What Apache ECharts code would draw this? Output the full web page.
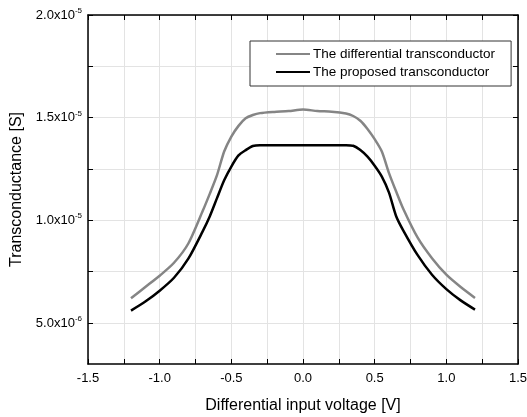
<!DOCTYPE html>
<html>
<head>
<meta charset="utf-8">
<script src="https://cdn.jsdelivr.net/npm/echarts@6/dist/echarts.min.js"></script>
<style>
  html, body { margin: 0; padding: 0; background: #fff; }
  #chart { width: 527px; height: 417px; }
</style>
</head>
<body>
<div id="chart"></div>
<script>
// differential input voltage [V]
var voltage = [-1.2, -1.1, -1.0, -0.9, -0.8, -0.7, -0.65, -0.6, -0.55, -0.5, -0.45, -0.4, -0.35, -0.3, -0.2, -0.1, 0,
               0.1, 0.2, 0.3, 0.35, 0.4, 0.45, 0.5, 0.55, 0.6, 0.65, 0.7, 0.8, 0.9, 1.0, 1.1, 1.2];
// transconductance [S]
var gmDifferential = [6.2e-6, 6.75e-6, 7.3e-6, 7.93e-6, 8.87e-6, 1.045e-5, 1.13e-5, 1.22e-5, 1.335e-5, 1.408e-5, 1.46e-5, 1.497e-5, 1.513e-5, 1.522e-5, 1.528e-5, 1.532e-5, 1.54e-5,
                      1.532e-5, 1.529e-5, 1.52e-5, 1.508e-5, 1.485e-5, 1.445e-5, 1.395e-5, 1.335e-5, 1.23e-5, 1.14e-5, 1.055e-5, 9.15e-6, 8.15e-6, 7.35e-6, 6.75e-6, 6.22e-6];
var gmProposed = [5.6e-6, 6.04e-6, 6.57e-6, 7.2e-6, 8.13e-6, 9.46e-6, 1.02e-5, 1.108e-5, 1.195e-5, 1.262e-5, 1.316e-5, 1.342e-5, 1.362e-5, 1.366e-5, 1.366e-5, 1.366e-5, 1.366e-5,
                  1.366e-5, 1.366e-5, 1.366e-5, 1.363e-5, 1.342e-5, 1.31e-5, 1.266e-5, 1.213e-5, 1.135e-5, 1.02e-5, 9.5e-6, 8.3e-6, 7.35e-6, 6.65e-6, 6.1e-6, 5.65e-6];
var yLabelValues = [5e-6, 1e-5, 1.5e-5, 2e-5];
var yTickValues = [5e-6, 7.5e-6, 1e-5, 1.25e-5, 1.5e-5, 1.75e-5, 2e-5];

function pairs(xs, ys) {
    return xs.map(function (x, i) { return [x, ys[i]]; });
}

function sciLabel(v) {
    var exp = Math.floor(Math.log10(v) + 1e-9);
    var mant = v / Math.pow(10, exp);
    return '{m|' + mant.toFixed(1) + 'x10}{e|' + exp + '}';
}

var font = 'Liberation Sans, Arial, sans-serif';
var gridColor = '#e3e3e3';
var axisLine = { show: true, onZero: false, lineStyle: { color: '#000', width: 1.5 } };

var chart = echarts.init(document.getElementById('chart'));
chart.setOption({
    animation: false,
    textStyle: { fontFamily: font },
    grid: { left: 88, top: 15, right: 9, bottom: 53, outerBoundsMode: 'none', containLabel: false },
    legend: {
        orient: 'vertical',
        left: 250,
        top: 41,
        padding: [6, 16, 7, 25],
        itemGap: 4,
        itemWidth: 34,
        itemHeight: 14,
        itemStyle: { opacity: 0 },
        backgroundColor: '#fff',
        borderColor: '#333',
        borderWidth: 1,
        borderRadius: 0,
        textStyle: { fontSize: 13.5, color: '#000', fontFamily: font, padding: [0, 0, 0, -2] },
        data: ['The differential transconductor', 'The proposed transconductor']
    },
    xAxis: [{
        type: 'value',
        min: -1.5,
        max: 1.5,
        interval: 0.5,
        name: 'Differential input voltage [V]',
        nameLocation: 'middle',
        nameGap: 34,
        nameTextStyle: { fontSize: 16, color: '#000' },
        axisLine: axisLine,
        axisTick: { show: true, inside: true, length: 5, lineStyle: { color: '#000' } },
        minorTick: { show: true, splitNumber: 2, length: 5, lineStyle: { color: '#000' } },
        splitLine: { show: true, lineStyle: { color: gridColor } },
        minorSplitLine: { show: true, lineStyle: { color: gridColor } },
        axisLabel: { fontSize: 13, color: '#000', margin: 8, formatter: function (v) { return v.toFixed(1); } }
    }, {
        type: 'value',
        position: 'top',
        min: -1.5,
        max: 1.5,
        interval: 0.5,
        axisLine: axisLine,
        axisTick: { show: true, inside: true, length: 5, lineStyle: { color: '#000' } },
        minorTick: { show: true, splitNumber: 2, length: 5, lineStyle: { color: '#000' } },
        splitLine: { show: false },
        axisLabel: { show: false }
    }],
    yAxis: [{
        type: 'value',
        min: 3e-6,
        max: 2e-5,
        name: 'Transconductance [S]',
        nameLocation: 'middle',
        nameGap: 60,
        nameTextStyle: { fontSize: 16, color: '#000' },
        axisLine: axisLine,
        axisTick: { show: true, inside: true, length: 5, lineStyle: { color: '#000' }, customValues: yTickValues },
        splitLine: { show: true, lineStyle: { color: gridColor } },
        axisLabel: {
            color: '#000',
            margin: 6,
            customValues: yLabelValues,
            formatter: sciLabel,
            rich: {
                m: { fontSize: 13, color: '#000', fontFamily: font },
                e: { fontSize: 8, color: '#000', fontFamily: font, verticalAlign: 'top', padding: [0, 0, 8, 0] }
            }
        }
    }, {
        type: 'value',
        position: 'right',
        min: 3e-6,
        max: 2e-5,
        axisLine: axisLine,
        axisTick: { show: true, inside: true, length: 5, lineStyle: { color: '#000' }, customValues: yTickValues },
        splitLine: { show: false },
        axisLabel: { show: false, customValues: yLabelValues }
    }],
    series: [{
        name: 'The differential transconductor',
        type: 'line',
        showSymbol: false,
        symbol: 'none',
        smooth: 0.25,
        color: '#858585',
        lineStyle: { color: '#858585', width: 2.5 },
        data: pairs(voltage, gmDifferential)
    }, {
        name: 'The proposed transconductor',
        type: 'line',
        showSymbol: false,
        symbol: 'none',
        smooth: 0.25,
        color: '#000',
        lineStyle: { color: '#000', width: 2.5 },
        data: pairs(voltage, gmProposed)
    }]
});
</script>
</body>
</html>
